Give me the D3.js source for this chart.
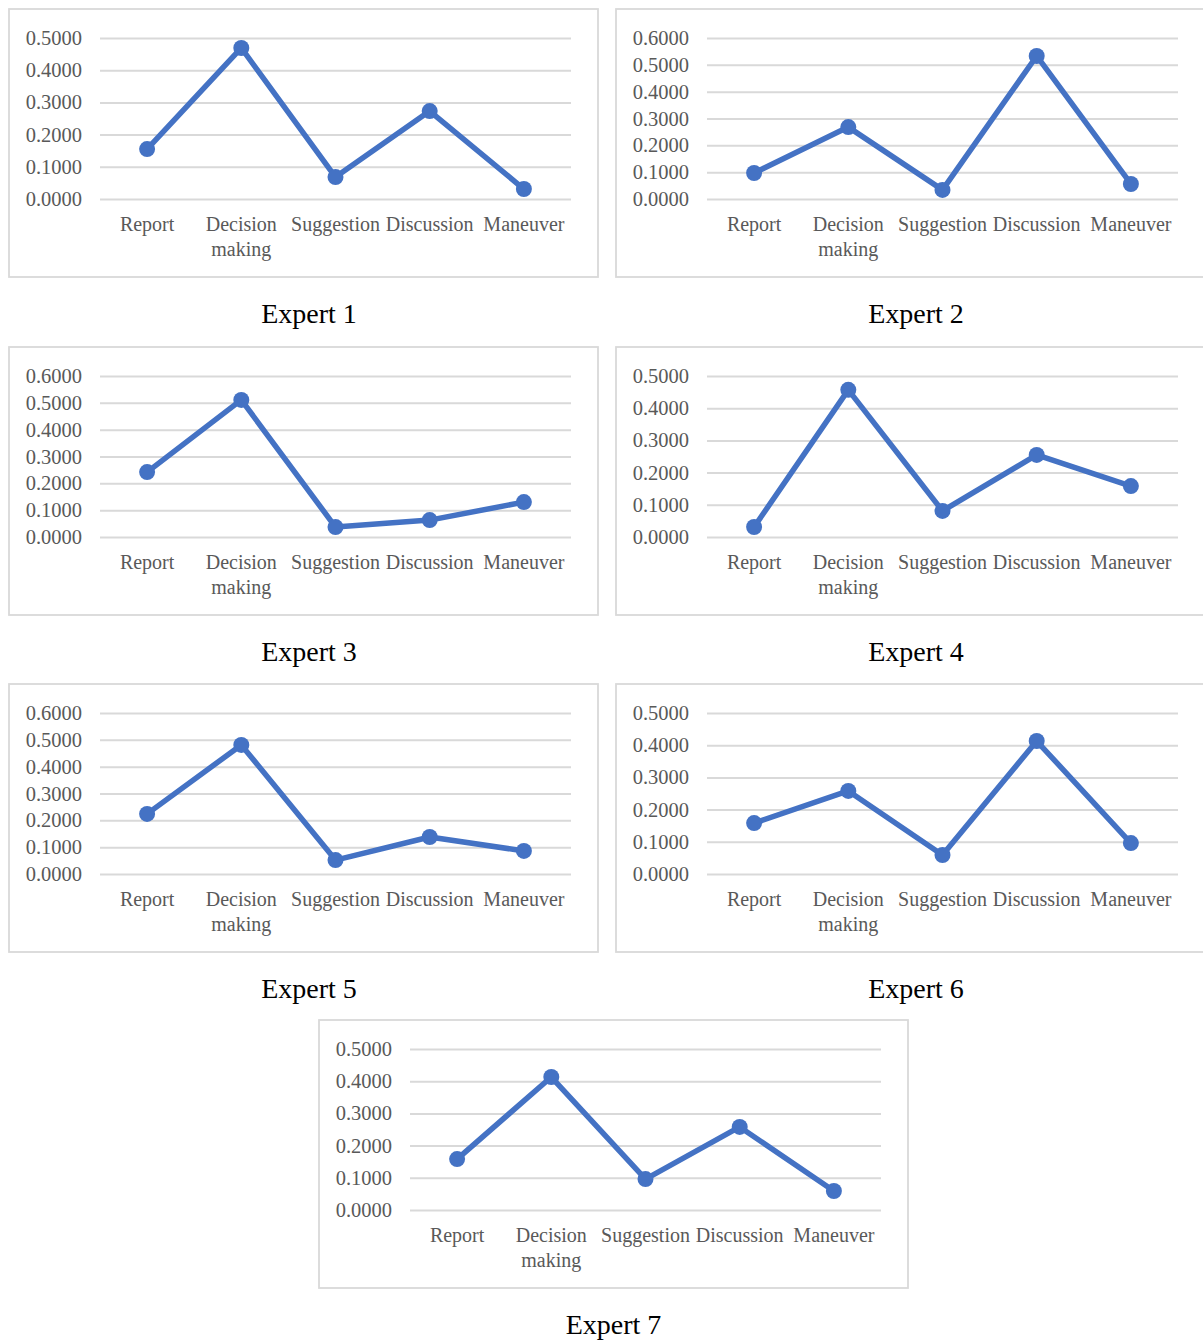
<!DOCTYPE html>
<html>
<head>
<meta charset="utf-8">
<script src="https://cdn.jsdelivr.net/npm/d3@7"></script>
<style>
  html, body { margin: 0; padding: 0; background: #ffffff; }
  svg { display: block; }
  text { font-family: "Liberation Serif", "Times New Roman", serif; }
</style>
</head>
<body>
<svg id="chart" width="1203" height="1340"></svg>
<script>
// Relative weights of the five activity types, one series per expert
const categories = ["Report", "Decision making", "Suggestion", "Discussion", "Maneuver"];
const expert1 = [0.155, 0.469, 0.068, 0.273, 0.031];
const expert2 = [0.097, 0.268, 0.034, 0.533, 0.056];
const expert3 = [0.242, 0.511, 0.037, 0.063, 0.130];
const expert4 = [0.031, 0.457, 0.081, 0.255, 0.158];
const expert5 = [0.224, 0.481, 0.052, 0.138, 0.086];
const expert6 = [0.158, 0.258, 0.059, 0.413, 0.096];
const expert7 = [0.158, 0.413, 0.096, 0.258, 0.059];
const titles = ["Expert 1", "Expert 2", "Expert 3", "Expert 4", "Expert 5", "Expert 6", "Expert 7"];
const axisMax = [0.5, 0.6, 0.6, 0.5, 0.6, 0.5, 0.5];

const series = [expert1, expert2, expert3, expert4, expert5, expert6, expert7];

// panel geometry
const boxW = 589, boxH = 268;
const plotLeft = 91, plotRight = 562, plotTop = 29, plotBottom = 190;
const origins = [[9, 9], [616, 9], [9, 347], [616, 347], [9, 684], [616, 684], [319, 1020]];
const titleX = [300, 300, 300, 300, 300, 300, 294.5];

const lineColor = "#4472C4";
const gridColor = "#d9d9d9";
const labelColor = "#595959";

const svg = d3.select("#chart");

series.forEach((values, i) => {
  const [ox, oy] = origins[i];
  const g = svg.append("g").attr("transform", `translate(${ox},${oy})`);

  // chart frame
  g.append("rect")
    .attr("x", 0).attr("y", 0)
    .attr("width", boxW).attr("height", boxH)
    .attr("fill", "#ffffff")
    .attr("stroke", gridColor)
    .attr("stroke-width", 1.8);

  const x = d3.scaleBand().domain(categories).range([plotLeft, plotRight]);
  const y = d3.scaleLinear().domain([0, axisMax[i]]).range([plotBottom, plotTop]);
  const cx = c => x(c) + x.bandwidth() / 2;

  const ticks = d3.range(0, Math.round(axisMax[i] * 10) + 1).map(k => k / 10);

  // value axis with gridlines
  const yAxis = d3.axisLeft(y)
    .tickValues(ticks)
    .tickFormat(d3.format(".4f"))
    .tickSize(-(plotRight - plotLeft))
    .tickPadding(18);

  const ay = g.append("g")
    .attr("transform", `translate(${plotLeft},0)`)
    .call(yAxis);
  ay.select(".domain").remove();
  ay.selectAll(".tick line")
    .attr("stroke", gridColor)
    .attr("stroke-width", 2);
  ay.selectAll(".tick text")
    .attr("fill", labelColor)
    .attr("font-size", 20.5)
    .attr("font-family", "'Liberation Serif', 'Times New Roman', serif");

  // category labels, wrapped on spaces for the two-word one
  const cat = g.append("g");
  categories.forEach(c => {
    const t = cat.append("text")
      .attr("x", cx(c))
      .attr("y", plotBottom + 32)
      .attr("text-anchor", "middle")
      .attr("fill", labelColor)
      .attr("font-size", 20);
    const words = c.split(" ");
    words.forEach((w, k) => {
      t.append("tspan")
        .attr("x", cx(c))
        .attr("dy", k === 0 ? 0 : 25)
        .text(w);
    });
  });

  // series line
  const line = d3.line()
    .x((d, k) => cx(categories[k]))
    .y(d => y(d));

  g.append("path")
    .datum(values)
    .attr("d", line)
    .attr("fill", "none")
    .attr("stroke", lineColor)
    .attr("stroke-width", 5.5)
    .attr("stroke-linejoin", "round");

  g.selectAll("circle.pt")
    .data(values)
    .join("circle")
    .attr("class", "pt")
    .attr("cx", (d, k) => cx(categories[k]))
    .attr("cy", d => y(d))
    .attr("r", 8)
    .attr("fill", lineColor);

  // panel caption
  g.append("text")
    .attr("x", titleX[i])
    .attr("y", boxH + 46)
    .attr("text-anchor", "middle")
    .attr("fill", "#000000")
    .attr("font-size", 28)
    .text(titles[i]);
});
</script>
</body>
</html>
